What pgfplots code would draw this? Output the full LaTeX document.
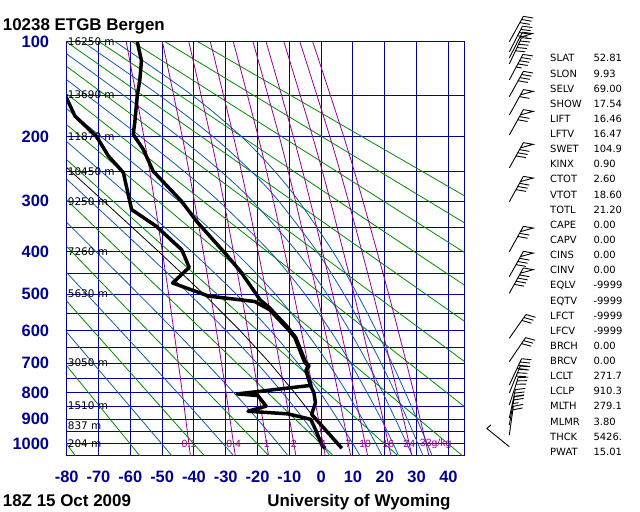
\documentclass[border=0pt]{standalone}
\usepackage{pgfplots}
\pgfplotsset{compat=1.18}
\usepackage{fontspec}
\setmainfont{Liberation Sans}
\newfontfamily\dejavu{DejaVu Sans}
\definecolor{gridc}{RGB}{0,0,150}
\definecolor{dryc}{RGB}{0,140,0}
\definecolor{moistc}{RGB}{20,90,170}
\definecolor{mixc}{RGB}{150,0,150}
\definecolor{labc}{RGB}{0,0,140}
\tikzset{
  dry/.style={dryc, line width=0.8bp},
  moist/.style={moistc, line width=0.8bp, smooth},
  mix/.style={mixc, line width=0.8bp, smooth},
  hl/.style={anchor=west, inner sep=0pt, xshift=1bp, font=\dejavu\fontsize{10.5}{10.5}\selectfont},
  ml/.style={inner sep=0pt, text=mixc, font=\fontsize{10.5}{10.5}\selectfont},
}
% wind barb glyph: #1 base y (px from top), #2 staff angle (deg, clockwise from up),
% #3 flags, #4 full feathers, #5 half feathers, #6 feather angle offset
\newcommand{\barb}[6]{%
  \pgfmathsetmacro{\ux}{sin(#2)}%
  \pgfmathsetmacro{\uy}{-cos(#2)}%
  \pgfmathsetmacro{\tx}{509.3+29*\ux}%
  \pgfmathsetmacro{\ty}{#1+29*\uy}%
  \pgfmathsetmacro{\fx}{10*sin(#2+#6)}%
  \pgfmathsetmacro{\fy}{-10*cos(#2+#6)}%
  \xdef\bc{(509.3,#1) (\tx,\ty) (nan,nan)}%
  \gdef\dd{0}%
  \ifnum#3>0
    \foreach \j in {1,...,#3}{%
      \pgfmathsetmacro{\ax}{\tx-\dd*\ux}\pgfmathsetmacro{\ay}{\ty-\dd*\uy}%
      \pgfmathsetmacro{\cx}{\tx-(\dd+6)*\ux}\pgfmathsetmacro{\cy}{\ty-(\dd+6)*\uy}%
      \pgfmathsetmacro{\px}{\ax+\fx}\pgfmathsetmacro{\py}{\ay+\fy}%
      \xdef\bc{\bc (\ax,\ay) (\px,\py) (\cx,\cy) (nan,nan)}%
      \pgfmathsetmacro{\nd}{\dd+8}\global\let\dd\nd
    }%
  \fi
  \ifnum#4>0
    \foreach \j in {1,...,#4}{%
      \pgfmathsetmacro{\ax}{\tx-\dd*\ux}\pgfmathsetmacro{\ay}{\ty-\dd*\uy}%
      \pgfmathsetmacro{\px}{\ax+\fx}\pgfmathsetmacro{\py}{\ay+\fy}%
      \xdef\bc{\bc (\ax,\ay) (\px,\py) (nan,nan)}%
      \pgfmathsetmacro{\nd}{\dd+3.6}\global\let\dd\nd
    }%
  \fi
  \ifnum#5>0
      \pgfmathsetmacro{\ax}{\tx-\dd*\ux}\pgfmathsetmacro{\ay}{\ty-\dd*\uy}%
      \pgfmathsetmacro{\px}{\ax+0.55*\fx}\pgfmathsetmacro{\py}{\ay+0.55*\fy}%
      \xdef\bc{\bc (\ax,\ay) (\px,\py) (nan,nan)}%
  \fi
  \edef\tmp{\noexpand\addplot[black, line width=0.9bp, unbounded coords=jump] coordinates {\bc};}\tmp
}
\begin{document}
\begin{tikzpicture}[x=1bp,y=1bp]
\path[use as bounding box] (0,0) rectangle (640,512);
\begin{axis}[
  at={(66.7bp,56.3bp)}, anchor=south west,
  scale only axis, width=397.6bp, height=413.7bp,
  xmin=-80, xmax=45, ymin=100, ymax=1050,
  y dir=reverse,
  y coord trafo/.code={\pgfmathparse{(#1)^0.286}},
  y coord inv trafo/.code={\pgfmathparse{(#1)^3.4965}},
  xtick={-80,-70,-60,-50,-40,-30,-20,-10,0,10,20,30,40},
  xticklabels={-80,-70,-60,-50,-40,-30,-20,-10,0,10,20,30,40},
  ytick={100,200,300,400,500,600,700,800,900,1000},
  yticklabels={100,200,300,400,500,600,700,800,900,1000},
  minor ytick={150,250,350,450,550,650,750,850,950,1050},
  grid=both,
  major grid style={gridc, line width=1bp},
  minor grid style={gridc, line width=1bp},
  axis line style={gridc, line width=1bp},
  major tick length=0pt, minor tick length=0pt,
  tick label style={font=\bfseries\fontsize{16.5}{16.5}\selectfont, text=labc, inner sep=0pt},
  yticklabel style={anchor=east, xshift=-17.4bp},
  xticklabel style={anchor=north, yshift=-15bp},
  clip mode=individual,
]
% dry adiabats (theta = -80 ... 180 C)
\addplot[dry] coordinates {(-173.18,100) (-77.29,1050)};
\addplot[dry] coordinates {(-162.82,100) (-57.01,1050)};
\addplot[dry] coordinates {(-152.47,100) (-36.72,1050)};
\addplot[dry] coordinates {(-142.12,100) (-16.44,1050)};
\addplot[dry] coordinates {(-131.77,100) (3.84,1050)};
\addplot[dry] coordinates {(-121.42,100) (24.12,1050)};
\addplot[dry] coordinates {(-111.06,100) (44.40,1050)};
\addplot[dry] coordinates {(-100.71,100) (64.68,1050)};
\addplot[dry] coordinates {(-90.36,100) (84.96,1050)};
\addplot[dry] coordinates {(-80.01,100) (105.24,1050)};
\addplot[dry] coordinates {(-69.66,100) (125.52,1050)};
\addplot[dry] coordinates {(-59.30,100) (145.81,1050)};
\addplot[dry] coordinates {(-48.95,100) (166.09,1050)};
\addplot[dry] coordinates {(-38.60,100) (186.37,1050)};
% moist adiabats
\addplot[moist] coordinates {(-46.92,1050) (-80.4,600)};
\addplot[moist] coordinates {(-27.5,1050) (-30.76,1000) (-37.65,900) (-45.24,800) (-53.67,700) (-63.08,600) (-73.73,500) (-86.06,400)};
\addplot[moist] coordinates {(-10.43,1050) (-13.4,1000) (-19.99,900) (-27.52,800) (-36.15,700) (-46.03,600) (-57.4,500) (-70.69,400) (-86.67,300)};
\addplot[moist] coordinates {(2.73,1050) (0.16,1000) (-5.5,900) (-12.2,800) (-20.2,700) (-29.84,600) (-41.42,500) (-55.41,400) (-72.51,300) (-82.67,250)};
\addplot[moist] coordinates {(12.2,1050) (10.03,1000) (5.2,900) (-0.35,800) (-7.38,700) (-15.87,600) (-26.7,500) (-40.58,400) (-58.44,300) (-69.25,250) (-81.82,200)};
\addplot[moist] coordinates {(19.15,1050) (17.24,1000) (13.0,900) (8.08,800) (2.2,700) (-5.1,600) (-14.4,500) (-27.1,400) (-44.74,300) (-55.95,250) (-69.24,200) (-85.31,150)};
\addplot[moist] coordinates {(24.35,1050) (22.68,1000) (18.9,900) (14.42,800) (9.24,700) (2.95,600) (-5.1,500) (-16.05,400) (-32.15,300) (-43.15,250) (-56.8,200) (-73.72,150) (-95.5,100)};
\addplot[moist] coordinates {(28.64,1050) (27.0,1000) (23.36,900) (19.33,800) (14.6,700) (8.94,600) (1.87,500) (-7.59,400) (-21.55,300) (-31.56,250) (-44.83,200) (-62.21,150) (-85.17,100)};
\addplot[moist] coordinates {(32.06,1050) (30.45,1000) (27.1,900) (23.25,800) (18.83,700) (13.6,600) (7.19,500) (-1.2,400) (-13.31,300) (-22.03,250) (-34.03,200) (-51.0,150) (-74.85,100)};
\addplot[moist] coordinates {(34.89,1050) (33.38,1000) (30.12,900) (26.46,800) (22.26,700) (17.35,600) (11.37,500) (3.73,400) (-7.02,300) (-14.6,250) (-25.07,200) (-40.65,150) (-64.62,100)};
% mixing ratio lines
\addplot[mix] coordinates {(-61.27,100) (-55.76,200) (-52.37,300) (-47.94,500) (-44.90,700) (-43.10,850) (-41.11,1050)};
\addplot[mix] coordinates {(-49.90,100) (-43.67,200) (-39.84,300) (-34.79,500) (-31.33,700) (-29.28,850) (-27.0,1050)};
\addplot[mix] coordinates {(-41.59,100) (-34.80,200) (-30.61,300) (-25.09,500) (-21.30,700) (-19.05,850) (-16.55,1050)};
\addplot[mix] coordinates {(-34.82,100) (-27.56,200) (-23.07,300) (-17.15,500) (-13.07,700) (-10.65,850) (-7.95,1050)};
\addplot[mix] coordinates {(-27.59,100) (-19.81,200) (-14.99,300) (-8.62,500) (-4.23,700) (-1.62,850) (1.29,1050)};
\addplot[mix] coordinates {(-21.41,100) (-13.17,200) (-8.06,300) (-1.29,500) (3.39,700) (6.17,850) (9.27,1050)};
\addplot[mix] coordinates {(-17.30,100) (-8.75,200) (-3.43,300) (3.61,500) (8.48,700) (11.38,850) (14.61,1050)};
\addplot[mix] coordinates {(-11.69,100) (-2.70,200) (2.90,300) (10.32,500) (15.46,700) (18.52,850) (21.94,1050)};
\addplot[mix] coordinates {(-6.67,100) (2.72,200) (8.57,300) (16.35,500) (21.74,700) (24.95,850) (28.54,1050)};
\addplot[mix] coordinates {(-2.63,100) (7.09,200) (13.15,300) (21.22,500) (26.81,700) (30.15,850) (33.88,1050)};
% parcel path
\addplot[black, line width=0.8bp] coordinates {(-1.8,900) (-8.39,800) (-16.08,700) (-25.45,600) (-36.9,500) (-50.98,400) (-68.37,300) (-78.72,250) (-90.74,200)};
% temperature
\addplot[black, line width=3.5bp, line join=round] coordinates {(6.5,1018) (-3.0,881) (-1.8,837) (-2.3,800) (-3.3,777) (-4.6,724) (-3.8,708) (-4.9,697) (-8.0,620) (-10.5,590) (-16.2,536) (-19.3,514) (-20.4,500) (-25.5,443) (-29.7,407) (-39.2,337) (-43.9,300) (-52.8,250) (-56,217) (-59.1,197) (-58.6,182) (-57.8,150) (-57.0,134) (-56.5,116) (-57.8,100)};
% dew point
\addplot[black, line width=3.5bp, line join=round] coordinates {(1.3,1018) (0.3,1007) (-1.8,940) (-3.3,900) (-10.5,879) (-23.0,869) (-17.3,850) (-19.9,811) (-26.4,805) (-19.3,796) (-3.3,775) (-4.8,724) (-4.1,708) (-5.2,697) (-8.3,620) (-10.5,595) (-16.2,541) (-20.9,519) (-35.4,505) (-46.7,472) (-41.5,435) (-43.1,407) (-43.9,395) (-51.8,347) (-59.6,315) (-62.2,252) (-66.9,227) (-70.6,200) (-77.4,174) (-80.5,150)};
% height labels
\node[hl] at (axis cs:-80,100) {16250 m};
\node[hl] at (axis cs:-80,150) {13690 m};
\node[hl] at (axis cs:-80,200) {11870 m};
\node[hl] at (axis cs:-80,250) {10450 m};
\node[hl] at (axis cs:-80,300) {9250 m};
\node[hl] at (axis cs:-80,400) {7260 m};
\node[hl] at (axis cs:-80,500) {5630 m};
\node[hl] at (axis cs:-80,700) {3050 m};
\node[hl] at (axis cs:-80,850) {1510 m};
\node[hl] at (axis cs:-80,925) {837 m};
\node[hl] at (axis cs:-80,1000) {204 m};
% mixing ratio labels
\node[ml] at (axis cs:-41.6,1000) {0.1};
\node[ml] at (axis cs:-27.5,1000) {0.4};
\node[ml] at (axis cs:-17.1,1000) {1};
\node[ml] at (axis cs:-8.6,1000) {2};
\node[ml] at (axis cs:0.6,1000) {4};
\node[ml] at (axis cs:8.55,1000) {7};
\node[ml] at (axis cs:13.85,1000) {10};
\node[ml] at (axis cs:21.1,1000) {16};
\node[ml] at (axis cs:27.7,1000) {24};
\node[ml, anchor=west] at (axis cs:31.0,1000) {33g/kg};
\end{axis}
% wind barbs, in pixel coordinates of the picture
\begin{axis}[
  at={(0bp,0bp)}, anchor=south west,
  scale only axis, width=640bp, height=512bp,
  xmin=0, xmax=640, ymin=0, ymax=512, y dir=reverse,
  hide axis, clip=false,
]
\barb{41.7}{29}{0}{3}{0}{71}
\barb{52}{27}{0}{4}{0}{71}
\barb{58}{27}{1}{0}{0}{71}
\barb{64}{25}{0}{5}{0}{71}
\barb{80}{28}{0}{4}{1}{71}
\barb{96.7}{29}{0}{4}{0}{71}
\barb{115}{29}{1}{1}{0}{71}
\barb{135}{29}{1}{2}{0}{71}
\barb{168}{29}{1}{3}{0}{71}
\barb{201.7}{29}{1}{3}{0}{71}
\barb{251.7}{29}{1}{2}{0}{71}
\barb{276.7}{29}{1}{3}{0}{71}
\barb{293.3}{29}{1}{4}{0}{71}
\barb{338.3}{35}{0}{3}{0}{71}
\barb{361.7}{34}{0}{3}{0}{71}
\barb{385}{25}{0}{4}{0}{71}
\barb{393}{22}{0}{4}{0}{71}
\barb{405}{18}{0}{3}{0}{71}
\barb{418}{12}{0}{3}{0}{71}
\barb{425}{10}{0}{2}{1}{71}
\barb{435}{8}{0}{2}{0}{71}
\barb{446.7}{-51}{0}{0}{1}{101}
\end{axis}
% titles
\node[anchor=base west, inner sep=0pt, font=\bfseries\fontsize{17}{17}\selectfont] at (2.7,481.3) {10238 ETGB Bergen};
\node[anchor=base west, inner sep=0pt, font=\bfseries\fontsize{17}{17}\selectfont] at (2.7,5.5) {18Z 15 Oct 2009};
\node[anchor=base east, inner sep=0pt, font=\bfseries\fontsize{17}{17}\selectfont] at (450.7,5.5) {University of Wyoming};
% station parameters
\foreach \lab/\val [count=\i from 0] in {SLAT/52.81,SLON/9.93,SELV/69.00,SHOW/17.54,LIFT/16.46,LFTV/16.47,SWET/104.9,KINX/0.90,CTOT/2.60,VTOT/18.60,TOTL/21.20,CAPE/0.00,CAPV/0.00,CINS/0.00,CINV/0.00,EQLV/-9999,EQTV/-9999,LFCT/-9999,LFCV/-9999,BRCH/0.00,BRCV/0.00,LCLT/271.7,LCLP/910.3,MLTH/279.1,MLMR/3.80,THCK/5426.,PWAT/15.01}{
  \node[anchor=base west, inner sep=0pt, font=\dejavu\fontsize{10}{10}\selectfont] at (550,{512-61.95-15.13*\i}) {\lab};
  \node[anchor=base west, inner sep=0pt, font=\dejavu\fontsize{10}{10}\selectfont] at (593.3,{512-61.95-15.13*\i}) {\val};
}
\end{tikzpicture}
\end{document}
